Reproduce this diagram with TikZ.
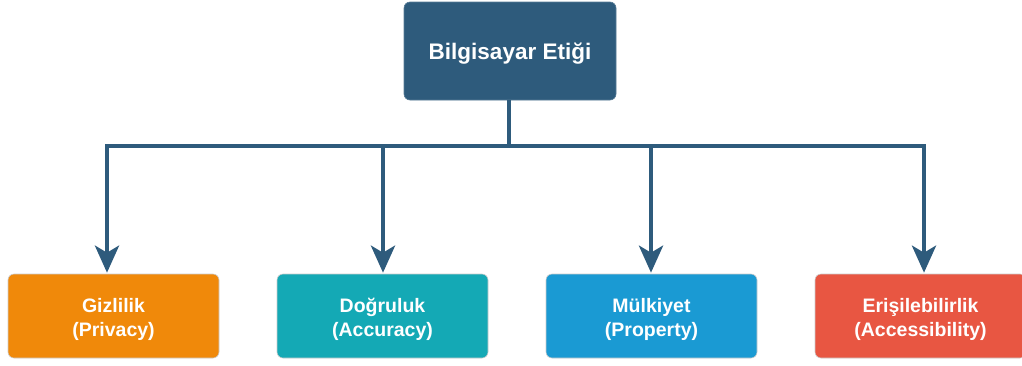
\documentclass[tikz,border=0pt]{standalone}
\usepackage{fontspec}
\setmainfont{Liberation Sans}
\usetikzlibrary{arrows.meta,calc}
\definecolor{navy}{HTML}{2E5B7C}
\definecolor{corange}{HTML}{F0890A}
\definecolor{cteal}{HTML}{14A9B5}
\definecolor{cblue}{HTML}{1A9AD3}
\definecolor{cred}{HTML}{E85642}
\newcommand{\twoline}[2]{\raisebox{-4pt}[\height][\depth]{\begin{tabular}{@{}c@{}}#1\\#2\end{tabular}}}
\tikzset{
  box/.style={rounded corners=6pt, draw=white!80!black, line width=0.6pt, text=white,
    font=\bfseries\fontsize{19.5}{24}\selectfont, inner sep=0pt,
    minimum width=211pt, minimum height=84pt},
  topbox/.style={rounded corners=6pt, fill=navy, draw=navy!80!white, line width=0.6pt, text=white,
    font=\bfseries\fontsize{22.5}{27}\selectfont, inner sep=0pt,
    minimum width=212pt, minimum height=98pt},
  conn/.style={draw=navy, line width=4.5pt},
  arr/.style={conn, -{Stealth[length=27pt, width=24pt, inset=7pt]}}
}
\begin{document}
\begin{tikzpicture}[x=1pt,y=-1pt]
\useasboundingbox (0,0) rectangle (1022,365);
\node[topbox] (top) at (510,51) {\raisebox{-3pt}[\height][\depth]{Bilgisayar Etiği}};
\node[box, fill=corange] (b1) at (113.5,316) {\twoline{Gizlilik}{(Privacy)}};
\node[box, fill=cteal] (b2) at (382.5,316) {\twoline{Doğruluk}{(Accuracy)}};
\node[box, fill=cblue] (b3) at (651.5,316) {\twoline{Mülkiyet}{(Property)}};
\node[box, fill=cred] (b4) at (920.5,316) {\twoline{Erişilebilirlik}{(Accessibility)}};
\coordinate (j) at (509,146);
\draw[conn] (top.south -| j) -- (j);
\draw[arr] (j) -| ([xshift=-6.5pt,yshift=1pt]b1.north);
\draw[arr] (j) -| ([xshift=0.5pt,yshift=1pt]b2.north);
\draw[arr] (j) -| ([xshift=-0.5pt,yshift=1pt]b3.north);
\draw[arr] (j) -| ([xshift=3.5pt,yshift=1pt]b4.north);
\end{tikzpicture}
\end{document}
